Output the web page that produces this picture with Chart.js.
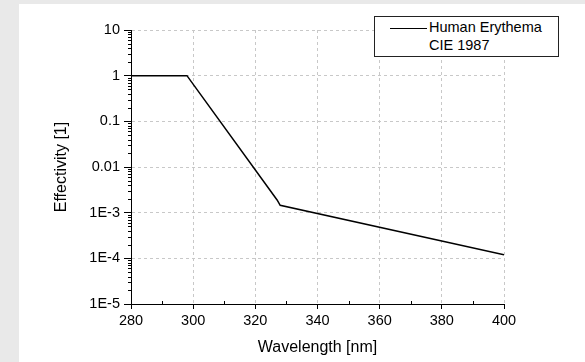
<!DOCTYPE html>
<html>
<head>
<meta charset="utf-8">
<script src="https://cdn.jsdelivr.net/npm/chart.js@4/dist/chart.umd.min.js"></script>
<style>
  html, body { margin: 0; padding: 0; background: #e9e9e9; width: 585px; height: 362px; overflow: hidden; }
  #panel { position: absolute; left: 19px; top: 4px; width: 566px; height: 358px; background: #ffffff; }
  #panel canvas { display: block; }
  #legend { position: absolute; left: 374px; top: 16px; width: 183px; height: 39px; border: 1px solid #222; background: #fff;
            font-family: "Liberation Sans", Arial, sans-serif; font-size: 14.5px; color: #000; }
  #legend .line { position: absolute; left: 15px; top: 11px; width: 37px; height: 0; border-top: 1.5px solid #000; }
  #legend .t1 { position: absolute; left: 54px; top: 2px; line-height: 17.7px; white-space: nowrap; }
  #legend .t2 { position: absolute; left: 54px; top: 19.7px; line-height: 17.7px; white-space: nowrap; }
</style>
</head>
<body>
<div id="panel"><canvas id="c" width="566" height="358"></canvas></div>
<div id="legend"><div class="line"></div><div class="t1">Human Erythema</div><div class="t2">CIE 1987</div></div>
<script>
// ---- data ----
const seriesName = ['Human Erythema', 'CIE 1987'];
const wavelengths = [280, 298, 327, 328, 400];
const effectivity = [1, 1, 0.0019, 0.00145, 0.00012];
const yTickValues = [1e-5, 1e-4, 1e-3, 0.01, 0.1, 1, 10];
const yTickLabels = ['1E-5', '1E-4', '1E-3', '0.01', '0.1', '1', '10'];
const xTickValues = [280, 300, 320, 340, 360, 380, 400];
const xMinorTicks = [290, 310, 330, 350, 370, 390];

const FONT = '"Liberation Sans", Arial, sans-serif';

const minorTicks = {
  id: 'minorTicks',
  afterDraw(chart) {
    const ctx = chart.ctx, xs = chart.scales.x, ys = chart.scales.y;
    const ca = chart.chartArea;
    ctx.save();
    ctx.strokeStyle = '#000';
    ctx.lineWidth = 1;
    ctx.beginPath();
    for (let k = -5; k < 1; k++) {
      for (let m = 2; m <= 9; m++) {
        const y = Math.round(ys.getPixelForValue(m * Math.pow(10, k))) + 0.5;
        ctx.moveTo(ca.left - 3, y);
        ctx.lineTo(ca.left, y);
      }
    }
    xMinorTicks.forEach(v => {
      const x = Math.round(xs.getPixelForValue(v)) + 0.5;
      ctx.moveTo(x, ca.bottom);
      ctx.lineTo(x, ca.bottom - 3);
    });
    ctx.stroke();
    ctx.restore();
  }
};

new Chart(document.getElementById('c'), {
  type: 'line',
  data: {
    datasets: [{
      label: seriesName.join(' '),
      data: wavelengths.map((x, i) => ({ x: x, y: effectivity[i] })),
      borderColor: '#000',
      borderWidth: 1.5,
      pointRadius: 0,
      fill: false,
      tension: 0
    }]
  },
  options: {
    responsive: false,
    animation: false,
    layout: { padding: { left: 0, top: 26, right: 81, bottom: 0 } },
    plugins: { legend: { display: false }, tooltip: { enabled: false } },
    scales: {
      x: {
        type: 'linear',
        min: 280, max: 400,
        afterBuildTicks(scale) { scale.ticks = xTickValues.map(v => ({ value: v })); },
        afterFit(scale) { scale.height = 58; },
        ticks: { color: '#000', font: { family: FONT, size: 14.5 }, padding: 3, maxRotation: 0,
                 callback: v => String(v) },
        grid: { color: '#c8c8c8', lineWidth: 1, tickLength: 5, tickColor: '#000', tickBorderDash: [],
                drawTicks: true },
        border: { display: true, color: '#000', width: 1, dash: [3, 3] },
        title: { display: true, text: 'Wavelength [nm]', color: '#000',
                 font: { family: FONT, size: 16 }, padding: { top: 4, bottom: 5 } }
      },
      y: {
        type: 'logarithmic',
        min: 1e-5, max: 10,
        afterBuildTicks(scale) { scale.ticks = yTickValues.map(v => ({ value: v })); },
        afterFit(scale) { scale.width = 112; },
        ticks: { color: '#000', font: { family: FONT, size: 14.5 }, padding: 4,
                 callback: function(v) { const i = yTickValues.findIndex(t => Math.abs(Math.log10(t) - Math.log10(v)) < 1e-6); return i >= 0 ? yTickLabels[i] : ''; } },
        grid: { color: '#c8c8c8', lineWidth: 1, tickLength: 7, tickColor: '#000', tickBorderDash: [] },
        border: { display: true, color: '#000', width: 1, dash: [3, 3] },
        title: { display: true, text: 'Effectivity [1]', color: '#000',
                 font: { family: FONT, size: 16 }, padding: { top: 33, bottom: 0 } }
      }
    }
  },
  plugins: [minorTicks]
});
</script>
</body>
</html>
